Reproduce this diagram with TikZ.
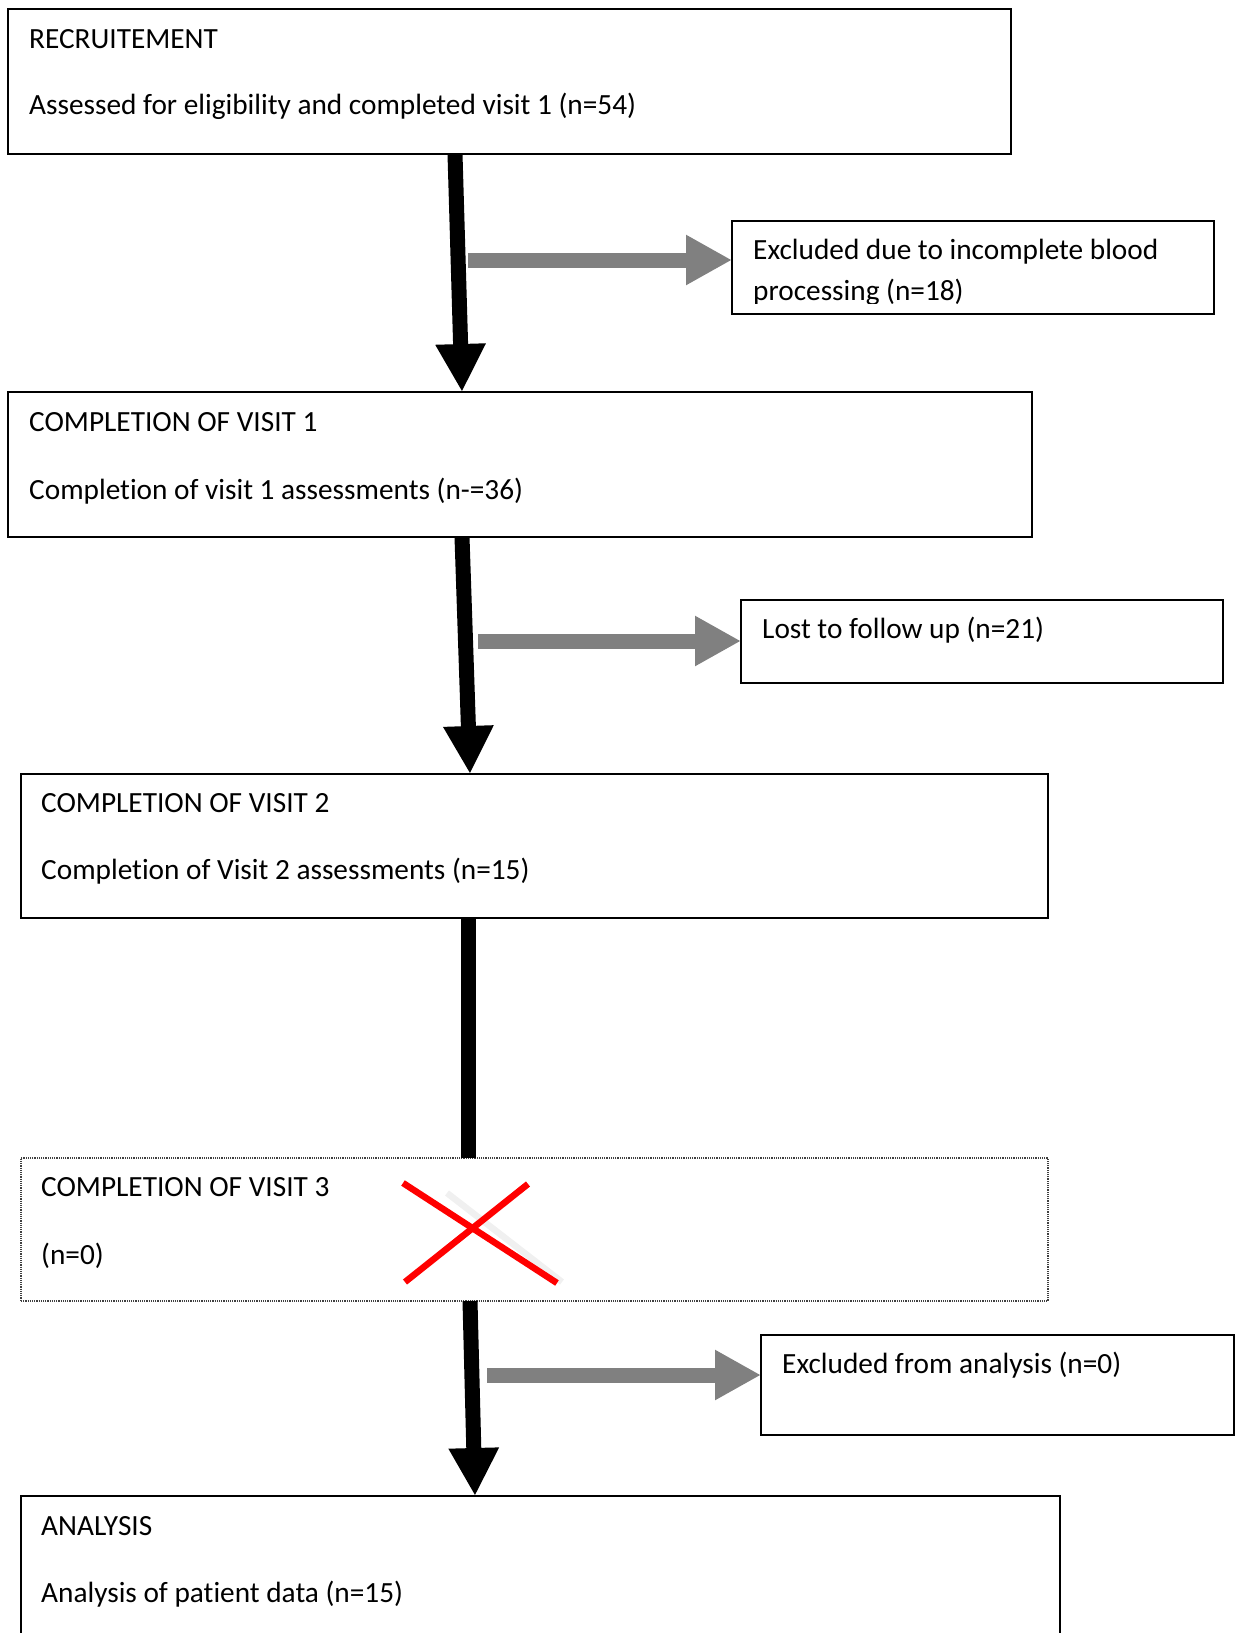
\documentclass[tikz,border=0pt]{standalone}
\usepackage{fontspec}
\setmainfont{Carlito}[RawFeature={-liga;-clig;-calt}]
\usetikzlibrary{arrows.meta}

\definecolor{arrowgray}{RGB}{128,128,128}
\definecolor{crossred}{RGB}{255,0,0}

\begin{document}
\begin{tikzpicture}[x=1pt,y=-1pt,
    box/.style={draw, line width=1.5pt, anchor=north west, inner sep=0pt, outer sep=0pt},
    txt/.style={anchor=base west, inner sep=0pt, font=\fontsize{29.3}{34}\selectfont},
    down/.style={line width=15pt, -{Triangle[length=48pt,width=47pt]}},
    side/.style={draw=arrowgray, line width=15pt, -{Triangle[length=46pt,width=47pt]}}]
          \useasboundingbox (0,0) rectangle (1237,1633);

          % boxes of the main column
          \node[box, minimum width=1003pt, minimum height=145pt] (recruit) at (8,9) {};
          \node[box, minimum width=1024pt, minimum height=145pt] (visit1) at (8,392) {};
          \node[box, minimum width=1027pt, minimum height=144pt] (visit2) at (21,774) {};
          \node[box, draw=black!75, line width=1.2pt, densely dotted,
                minimum width=1027pt, minimum height=143pt] (visit3) at (21,1158) {};
          \node[box, minimum width=1039pt, minimum height=200pt] (analysis) at (21,1496) {};

          % boxes on the right
          \node[box, minimum width=482pt, minimum height=93pt] (excl1) at (732,221) {};
          \node[box, minimum width=482pt, minimum height=83pt] (lost) at (741,600) {};
          \node[box, minimum width=473pt, minimum height=100pt] (excl3) at (761,1335) {};

          % texts
          \node[txt] (t1a) at (29,48) {RECRUITEMENT};
          \node[txt] (t1b) at (29,114.5) {Assessed for eligibility and completed visit 1 (n=54)};
          \node[txt] (t2a) at (29,431.5) {COMPLETION OF VISIT 1};
          \node[txt] (t2b) at (29,499) {Completion of visit 1 assessments (n-=36)};
          \node[txt] (t3a) at (41,812.5) {COMPLETION OF VISIT 2};
          \node[txt] (t3b) at (41,879.5) {Completion of Visit 2 assessments (n=15)};
          \node[txt] (t4a) at (41,1196.5) {COMPLETION OF VISIT 3};
          \node[txt] (t4b) at (41,1264.5) {(n=0)};
          \node[txt] (t5a) at (41,1535.5) {ANALYSIS};
          \node[txt] (t5b) at (41,1602.5) {Analysis of patient data (n=15)};

          \node[txt] (e1a) at (753,259.5) {Excluded due to incomplete blood};
          \begin{scope}
            \clip (732,221) rectangle (1214,303);
            \node[txt] (e1b) at (753,300) {processing (n=18)};
          \end{scope}
          \node[txt] (e2a) at (762,638.5) {Lost to follow up (n=21)};
          \node[txt] (e3a) at (782,1373.5) {Excluded from analysis (n=0)};

          % arrows down
          \draw[down] ([xshift=447pt]recruit.south west) -- ([xshift=454pt]visit1.north west);
          \draw[down] ([xshift=454pt]visit1.south west) -- ([xshift=449pt]visit2.north west);
          \draw[line width=15pt] ([xshift=447.5pt]visit2.south west) -- ([xshift=447.5pt]visit3.north west);
          \draw[down] ([xshift=449pt]visit3.south west) -- ([xshift=454pt]analysis.north west);

          % arrows to the side
          \coordinate (g1) at (468,260);
          \coordinate (g2) at (478,641);
          \coordinate (g3) at (487,1375);
          \draw[side] (g1) -- (g1 -| excl1.west);
          \draw[side] (g2) -- (g2 -| lost.west);
          \draw[side] (g3) -- (g3 -| excl3.west);

          % cross on visit 3
          \draw[black!6, line width=6.5pt] (447,1193) -- (562,1282);
          \draw[crossred, line width=6.5pt] (403,1183) -- (557,1283);
          \draw[crossred, line width=6.5pt] (405,1282) -- (528,1184);
\end{tikzpicture}
\end{document}
